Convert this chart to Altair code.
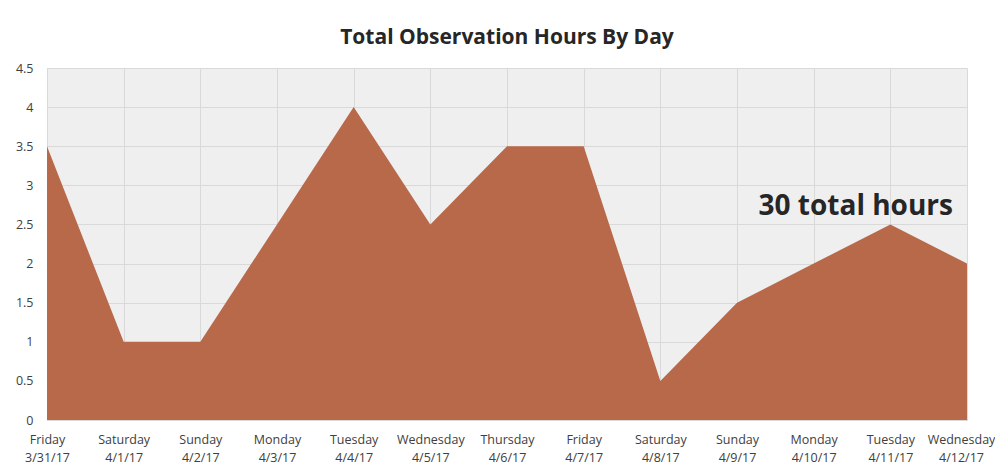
import altair as alt
import pandas as pd

days = ["Friday", "Saturday", "Sunday", "Monday", "Tuesday", "Wednesday", "Thursday",
        "Friday", "Saturday", "Sunday", "Monday", "Tuesday", "Wednesday"]
dates = ["3/31/17", "4/1/17", "4/2/17", "4/3/17", "4/4/17", "4/5/17", "4/6/17",
         "4/7/17", "4/8/17", "4/9/17", "4/10/17", "4/11/17", "4/12/17"]
hours = [3.5, 1, 1, 2.5, 4, 2.5, 3.5, 3.5, 0.5, 1.5, 2, 2.5, 2]
y_ticks = [0, 0.5, 1, 1.5, 2, 2.5, 3, 3.5, 4, 4.5]
annotation = "30 total hours"

labels = [f"{d}\n{t}" for d, t in zip(days, dates)]
df = pd.DataFrame({"label": labels, "hours": hours})
ann = pd.DataFrame({"label": [labels[-1]], "hours": [2.62], "text": [annotation]})

FONT = "Open Sans"

x = alt.X("label:N", sort=labels, title=None,
          scale=alt.Scale(type="point", padding=0),
          axis=alt.Axis(labelAngle=0, labelExpr="split(datum.label, '\\n')",
                        labelFont=FONT, labelFontSize=12.5, labelColor="#404040",
                        labelPadding=13, labelLineHeight=18, ticks=False,
                        domainColor="#d9d9d9", grid=True, gridColor="#d9d9d9",
                        labelOverlap=False, labelBound=False,
                        labelOffset={"condition": {"test": "datum.index == 1", "value": -6},
                                     "value": 0}))
y = alt.Y("hours:Q", title=None,
          scale=alt.Scale(domain=[0, 4.5], nice=False),
          axis=alt.Axis(values=y_ticks, format="~g", labelOverlap=False,
                        labelFont=FONT, labelFontSize=12.5, labelColor="#404040",
                        labelPadding=14, ticks=False, domain=False,
                        gridColor="#d9d9d9"))

area = alt.Chart(df).mark_area(color="#B8694A", opacity=1).encode(x=x, y=y)

text = alt.Chart(ann).mark_text(align="right", baseline="alphabetic", dx=-14,
                                font=FONT, fontSize=28, fontWeight="bold",
                                color="#262626").encode(x=x, y=y, text="text:N")

chart = alt.layer(area, text).properties(
    width=920, height=352,
    title=alt.Title("Total Observation Hours By Day", font=FONT, fontSize=21,
                    fontWeight="bold", color="#262626", anchor="middle", offset=14),
    autosize=alt.AutoSizeParams(type="none"),
    padding={"left": 39, "top": 60, "right": 28, "bottom": 50},
    background="white",
).configure_view(fill="#efefef", stroke=None)

chart.save("out.html", embed_options={"renderer": "svg", "actions": False})
